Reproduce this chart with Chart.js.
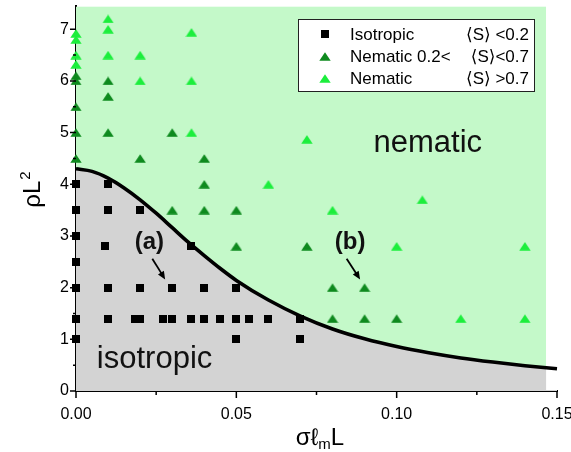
<!DOCTYPE html>
<html>
<head>
<meta charset="utf-8">
<script src="https://cdn.jsdelivr.net/npm/chart.js@4.4.0/dist/chart.umd.min.js"></script>
<style>
  html, body { margin: 0; padding: 0; background: #fff; }
  #wrap { width: 571px; height: 452px; }
</style>
</head>
<body>
<div id="wrap"><canvas id="phase_Chart" width="571" height="452"></canvas></div>
<script>
// tick values
var xTicks = [0, 0.05, 0.10, 0.15];
var xMinorTicks = [0.025, 0.075, 0.125];
var yTicks = [0, 1, 2, 3, 4, 5, 6, 7];
var yMinorTicks = [0.5, 1.5, 2.5, 3.5, 4.5, 5.5, 6.5];

// Isotropic <S> < 0.2
var isoX = [0, 0, 0, 0, 0, 0, 0, 0.01, 0.01, 0.009, 0.01, 0.01, 0.02, 0.02, 0.0185, 0.02,
            0.03, 0.027, 0.03, 0.036, 0.036, 0.04, 0.04, 0.045, 0.05, 0.05, 0.05, 0.054, 0.06, 0.07, 0.07];
var isoY = [4, 3.5, 3, 2.5, 2, 1.4, 1, 4, 3.5, 2.8, 2, 1.4, 3.5, 2, 1.4, 1.4,
            2, 1.4, 1.4, 2.8, 1.4, 2, 1.4, 1.4, 2, 1.4, 1, 1.4, 1.4, 1.4, 1];

// Nematic 0.2 < <S> < 0.7
var nemMidX = [0, 0, 0, 0, 0, 0.01, 0.01, 0.01, 0.02, 0.03, 0.03, 0.04, 0.04, 0.04,
               0.05, 0.05, 0.072, 0.08, 0.09, 0.08, 0.09, 0.10];
var nemMidY = [6.1, 6.0, 5.5, 5.0, 4.5, 6.0, 5.7, 5.0, 4.5, 5.0, 3.5, 4.5, 4.0, 3.5,
               3.5, 2.8, 2.8, 2.0, 2.0, 1.4, 1.4, 1.4];

// Nematic <S> > 0.7
var nemHighX = [0, 0, 0, 0, 0.01, 0.01, 0.01, 0.02, 0.02, 0.036, 0.036, 0.036,
                0.06, 0.072, 0.08, 0.108, 0.10, 0.14, 0.12, 0.14];
var nemHighY = [6.92, 6.8, 6.5, 6.32, 7.2, 7.0, 6.5, 6.5, 6.0, 6.94, 6.0, 5.0,
                4.0, 4.87, 3.5, 3.7, 2.8, 2.8, 1.4, 1.4];

// phase boundary
var boundaryX = [0, 0.005, 0.01, 0.015, 0.02, 0.025, 0.03, 0.035, 0.04, 0.045, 0.05,
                 0.06, 0.07, 0.08, 0.09, 0.10, 0.11, 0.12, 0.13, 0.14, 0.15];
var boundaryY = [4.3, 4.25, 4.12, 3.93, 3.7, 3.44, 3.16, 2.88, 2.62, 2.37, 2.14,
                 1.76, 1.45, 1.2, 1.01, 0.86, 0.74, 0.64, 0.56, 0.49, 0.43];

const FONT = "'Liberation Sans', Arial, 'DejaVu Sans', sans-serif";
const DARK = 'rgb(14,138,30)';
const LIGHT = 'rgb(28,238,60)';
const BG_GREEN = 'rgb(196,249,201)';
const GRAY = 'rgb(211,211,211)';
const FILL_END = 0.1466;

function pts(xs, ys) {
  return xs.map((x, i) => ({x: x, y: ys[i]}));
}

function triImg(color) {
  var c = document.createElement('canvas');
  c.width = 12; c.height = 9;
  var g = c.getContext('2d');
  g.fillStyle = color;
  g.beginPath();
  g.moveTo(6, 0.3); g.lineTo(11.7, 8.7); g.lineTo(0.3, 8.7);
  g.closePath(); g.fill();
  return c;
}
function sqImg() {
  var c = document.createElement('canvas');
  c.width = 8; c.height = 8;
  var g = c.getContext('2d');
  g.fillStyle = '#000';
  g.fillRect(0, 0, 8, 8);
  return c;
}
const triDark = triImg(DARK), triLight = triImg(LIGHT), square = sqImg();

Chart.defaults.font.family = FONT;

const decor = {
  id: 'decor',
  beforeDatasetsDraw(chart) {
    const {ctx, chartArea: a, scales: {x}} = chart;
    ctx.save();
    ctx.fillStyle = BG_GREEN;
    ctx.fillRect(a.left, a.top + 0.7, x.getPixelForValue(FILL_END) - a.left, a.bottom - a.top - 0.7);
    ctx.restore();
  },
  afterDatasetDraw(chart, args) {
    // gray fill stops a bit before the x axis end
    if (args.index !== 4) return;
    const {ctx, chartArea: a, scales: {x}} = chart;
    const xr = x.getPixelForValue(FILL_END);
    ctx.save();
    ctx.fillStyle = '#fff';
    ctx.fillRect(xr, a.top - 2, a.right - xr + 14, a.bottom - a.top + 1);
    ctx.restore();
  },
  afterDraw(chart) {
    const {ctx, chartArea: a, scales: {x, y}} = chart;
    ctx.save();
    // tick marks
    ctx.strokeStyle = '#000';
    ctx.lineWidth = 1.5;
    ctx.beginPath();
    xTicks.forEach(v => { const p = x.getPixelForValue(v); ctx.moveTo(p, a.bottom); ctx.lineTo(p, a.bottom + 7); });
    xMinorTicks.forEach(v => { const p = x.getPixelForValue(v); ctx.moveTo(p, a.bottom); ctx.lineTo(p, a.bottom + 4); });
    yTicks.forEach(v => { const p = y.getPixelForValue(v); ctx.moveTo(a.left, p); ctx.lineTo(a.left - 6, p); });
    yMinorTicks.forEach(v => { const p = y.getPixelForValue(v); ctx.moveTo(a.left, p); ctx.lineTo(a.left - 3, p); });
    ctx.stroke();

    // region labels
    ctx.fillStyle = '#111';
    ctx.font = '31px ' + FONT;
    ctx.textBaseline = 'alphabetic';
    ctx.textAlign = 'center';
    ctx.fillText('nematic', x.getPixelForValue(0.1097), y.getPixelForValue(4.63));
    ctx.fillText('isotropic', x.getPixelForValue(0.0245), y.getPixelForValue(0.445));

    // (a) and (b) with arrows
    ctx.font = 'bold 24px ' + FONT;
    ctx.textBaseline = 'middle';
    ctx.fillText('(a)', x.getPixelForValue(0.0229), y.getPixelForValue(2.88));
    ctx.fillText('(b)', x.getPixelForValue(0.0855), y.getPixelForValue(2.87));
    function arrow(x0, y0, x1, y1) {
      const p0 = [x.getPixelForValue(x0), y.getPixelForValue(y0)];
      const p1 = [x.getPixelForValue(x1), y.getPixelForValue(y1)];
      const ang = Math.atan2(p1[1] - p0[1], p1[0] - p0[0]);
      ctx.strokeStyle = '#000'; ctx.lineWidth = 1.8;
      ctx.beginPath();
      ctx.moveTo(p0[0], p0[1]);
      ctx.lineTo(p1[0] - 5 * Math.cos(ang), p1[1] - 5 * Math.sin(ang));
      ctx.stroke();
      ctx.beginPath();
      ctx.moveTo(p1[0], p1[1]);
      ctx.lineTo(p1[0] - 8 * Math.cos(ang) + 3.5 * Math.sin(ang), p1[1] - 8 * Math.sin(ang) - 3.5 * Math.cos(ang));
      ctx.lineTo(p1[0] - 8 * Math.cos(ang) - 3.5 * Math.sin(ang), p1[1] - 8 * Math.sin(ang) + 3.5 * Math.cos(ang));
      ctx.closePath();
      ctx.fillStyle = '#000'; ctx.fill();
    }
    arrow(0.0238, 2.56, 0.0278, 2.16);
    arrow(0.0844, 2.56, 0.0886, 2.16);

    // axis titles
    ctx.fillStyle = '#000';
    ctx.textBaseline = 'alphabetic';
    ctx.textAlign = 'left';
    // x title: σℓmL
    ctx.font = '24px ' + FONT;
    const w1 = ctx.measureText('σℓ').width;
    const w3 = ctx.measureText('L').width;
    ctx.font = '15px ' + FONT;
    const w2 = ctx.measureText('m').width;
    let tx = 320 - (w1 + w2 + w3) / 2;
    ctx.font = '24px ' + FONT;
    ctx.fillText('σℓ', tx, 445);
    ctx.font = '15px ' + FONT;
    ctx.fillText('m', tx + w1, 449);
    ctx.font = '24px ' + FONT;
    ctx.fillText('L', tx + w1 + w2, 445);
    // y title: ρL²
    ctx.save();
    ctx.translate(40, 190);
    ctx.rotate(-Math.PI / 2);
    ctx.font = '24px ' + FONT;
    const wy = ctx.measureText('ρL').width;
    ctx.font = '15px ' + FONT;
    const ws = ctx.measureText('2').width;
    const sx = -(wy + ws) / 2;
    ctx.font = '24px ' + FONT;
    ctx.fillText('ρL', sx, 0);
    ctx.font = '15px ' + FONT;
    ctx.fillText('2', sx + wy + 1, -10);
    ctx.restore();

    // legend
    ctx.fillStyle = '#fff';
    ctx.fillRect(298.5, 19.5, 236, 72);
    ctx.strokeStyle = '#222'; ctx.lineWidth = 1;
    ctx.strokeRect(298.5, 19.5, 236, 72);
    const rows = [
      {img: square, left: 'Isotropic', right: '⟨S⟩ <0.2', y: 34},
      {img: triDark, left: 'Nematic 0.2<', right: '⟨S⟩<0.7', y: 56},
      {img: triLight, left: 'Nematic', right: '⟨S⟩ >0.7', y: 78}
    ];
    ctx.font = '17px ' + FONT;
    ctx.fillStyle = '#000';
    ctx.textBaseline = 'middle';
    rows.forEach(r => {
      ctx.drawImage(r.img, Math.round(325 - r.img.width / 2), Math.round(r.y - r.img.height / 2));
      ctx.textAlign = 'left';
      ctx.fillText(r.left, 350, r.y + 1);
      ctx.textAlign = 'right';
      ctx.fillText(r.right, 529, r.y + 1);
    });
    ctx.restore();
  }
};

const ctx_phase = document.getElementById('phase_Chart').getContext('2d');
const myChartPhase = new Chart(ctx_phase, {
  type: 'line',
  data: {
    datasets: [{
      label: 'Isotropic',
      data: pts(isoX, isoY),
      showLine: false,
      pointStyle: square,
      clip: false,
      order: 3
    }, {
      label: 'Nematic 0.2<S<0.7',
      data: pts(nemMidX, nemMidY),
      showLine: false,
      pointStyle: triDark,
      clip: false,
      order: 2
    }, {
      label: 'Nematic S>0.7',
      data: pts(nemHighX, nemHighY),
      showLine: false,
      pointStyle: triLight,
      clip: false,
      order: 1
    }, {
      label: 'boundary',
      data: pts(boundaryX, boundaryY),
      borderColor: '#000',
      borderWidth: 3.6,
      pointRadius: 0,
      fill: false,
      cubicInterpolationMode: 'monotone',
      clip: 4,
      order: 5
    }, {
      label: 'isotropic region',
      data: pts(boundaryX, boundaryY),
      borderWidth: 0,
      borderColor: 'rgba(0,0,0,0)',
      backgroundColor: GRAY,
      pointRadius: 0,
      fill: 'origin',
      cubicInterpolationMode: 'monotone',
      order: 10
    }]
  },
  options: {
    responsive: false,
    animation: false,
    events: [],
    layout: { padding: { left: 0, right: 14, top: 6, bottom: 0 } },
    plugins: { legend: { display: false }, tooltip: { enabled: false } },
    scales: {
      x: {
        type: 'linear',
        min: 0, max: 0.15,
        grid: { display: false, drawTicks: false },
        border: { display: true, color: '#000', width: 2 },
        afterBuildTicks: s => { s.ticks = xTicks.map(v => ({value: v})); },
        afterFit: s => { s.height = 61; s.paddingLeft = 0; s.paddingRight = 0; },
        ticks: {
          autoSkip: false, maxRotation: 0, padding: 14,
          color: '#000', font: { size: 16 },
          callback: v => v.toFixed(2)
        }
      },
      y: {
        type: 'linear',
        min: 0, max: 7.45,
        grid: { display: false, drawTicks: false },
        border: { display: true, color: '#000', width: 2 },
        afterBuildTicks: s => { s.ticks = yTicks.map(v => ({value: v})); },
        afterFit: s => { s.width = 76; s.paddingTop = 0; s.paddingBottom = 0; },
        ticks: {
          padding: 7,
          color: '#000', font: { size: 16 },
          callback: v => String(v)
        }
      }
    }
  },
  plugins: [decor]
});
</script>
</body>
</html>
